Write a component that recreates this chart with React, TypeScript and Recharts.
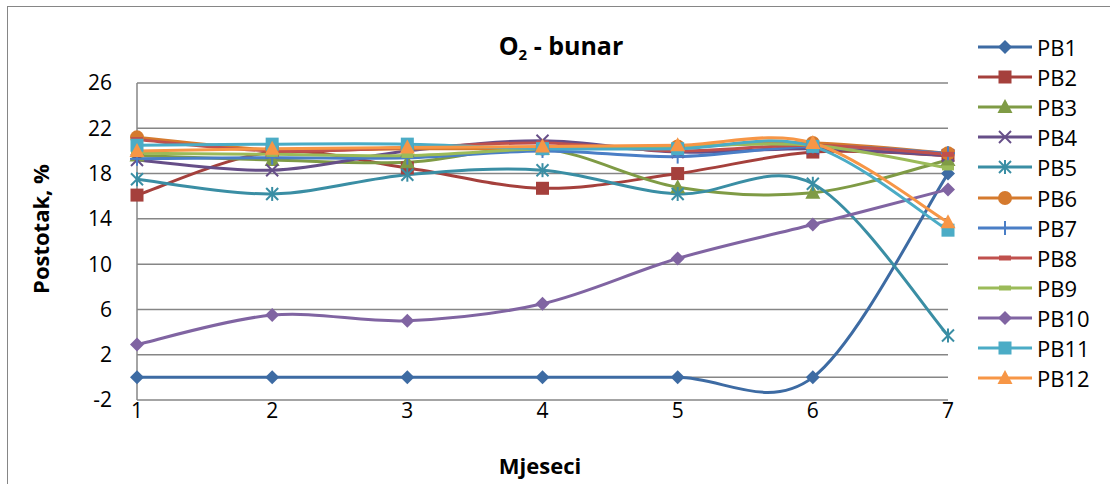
import React from "react";
import { LineChart, Line, XAxis, YAxis, CartesianGrid, ReferenceLine } from "recharts";

const months = [1, 2, 3, 4, 5, 6, 7];
const yTicks = [-2, 2, 6, 10, 14, 18, 22, 26];
const PB1 = [0, 0, 0, 0, 0, 0, 18];
const PB2 = [16.1, 19.9, 18.5, 16.7, 18.0, 19.9, 19.6];
const PB3 = [19.6, 19.2, 19.0, 20.2, 16.8, 16.3, 19.2];
const PB4 = [19.2, 18.3, 20.0, 20.9, 19.9, 20.2, 19.6];
const PB5 = [17.5, 16.2, 17.9, 18.3, 16.2, 17.1, 3.7];
const PB6 = [21.2, 20.1, 20.2, 20.2, 20.4, 20.7, 19.8];
const PB7 = [19.3, 19.4, 19.4, 20.0, 19.5, 20.4, 19.8];
const PB8 = [21.0, 20.0, 20.3, 20.7, 20.0, 20.5, 19.7];
const PB9 = [19.8, 19.7, 19.6, 20.2, 20.4, 20.5, 18.5];
const PB10 = [2.9, 5.5, 5.0, 6.5, 10.5, 13.5, 16.6];
const PB11 = [20.5, 20.6, 20.6, 20.2, 20.2, 20.4, 13.0];
const PB12 = [20.0, 20.2, 20.3, 20.4, 20.5, 20.7, 13.7];

const seriesNames = ["PB1", "PB2", "PB3", "PB4", "PB5", "PB6", "PB7", "PB8", "PB9", "PB10", "PB11", "PB12"];
const seriesValues = [PB1, PB2, PB3, PB4, PB5, PB6, PB7, PB8, PB9, PB10, PB11, PB12];
const seriesColors = [
  "#3D6BA3", "#A5403C", "#7F9B45", "#664E88", "#3A8EA4", "#D57A2E",
  "#4A7EC6", "#C0504D", "#9BBB59", "#8064A2", "#4BACC6", "#F79646",
];
const seriesShapes = [
  "diamond", "square", "triangle", "x", "star", "circle",
  "plus", "dash", "dash", "diamond", "square", "triangle",
];

const data = months.map((m, i) => {
  const row: any = { m };
  seriesNames.forEach((n, k) => (row[n] = seriesValues[k][i]));
  return row;
});

// Excel-like smoothing (Catmull-Rom style bezier)
const excelCurve: any = (context: any) => {
  let pts: number[][] = [];
  return {
    areaStart() {},
    areaEnd() {},
    lineStart() { pts = []; },
    point(x: number, y: number) { pts.push([+x, +y]); },
    lineEnd() {
      if (!pts.length) return;
      context.moveTo(pts[0][0], pts[0][1]);
      for (let i = 0; i < pts.length - 1; i++) {
        const p0 = pts[i - 1] || pts[i];
        const p1 = pts[i];
        const p2 = pts[i + 1];
        const p3 = pts[i + 2] || pts[i + 1];
        const c1x = p1[0] + (p2[0] - p0[0]) / 6;
        const c1y = p1[1] + (p2[1] - p0[1]) / 6;
        const c2x = p2[0] - (p3[0] - p1[0]) / 6;
        const c2y = p2[1] - (p3[1] - p1[1]) / 6;
        context.bezierCurveTo(c1x, c1y, c2x, c2y, p2[0], p2[1]);
      }
    },
  };
};

function Marker({ shape, color, cx, cy }: any) {
  const s = 7;
  switch (shape) {
    case "diamond":
      return <polygon points={`${cx},${cy - s} ${cx + s},${cy} ${cx},${cy + s} ${cx - s},${cy}`} fill={color} />;
    case "square":
      return <rect x={cx - 6.5} y={cy - 6.5} width={13} height={13} fill={color} />;
    case "triangle":
      return <polygon points={`${cx},${cy - 8} ${cx + 7.5},${cy + 6} ${cx - 7.5},${cy + 6}`} fill={color} />;
    case "circle":
      return <circle cx={cx} cy={cy} r={7} fill={color} />;
    case "x":
      return (
        <g stroke={color} strokeWidth={2}>
          <line x1={cx - 6} y1={cy - 6} x2={cx + 6} y2={cy + 6} />
          <line x1={cx - 6} y1={cy + 6} x2={cx + 6} y2={cy - 6} />
        </g>
      );
    case "star":
      return (
        <g stroke={color} strokeWidth={2}>
          <line x1={cx - 6} y1={cy - 6} x2={cx + 6} y2={cy + 6} />
          <line x1={cx - 6} y1={cy + 6} x2={cx + 6} y2={cy - 6} />
          <line x1={cx} y1={cy - 7} x2={cx} y2={cy + 7} />
        </g>
      );
    case "plus":
      return (
        <g stroke={color} strokeWidth={2}>
          <line x1={cx} y1={cy - 7} x2={cx} y2={cy + 7} />
          <line x1={cx - 7} y1={cy} x2={cx + 7} y2={cy} />
        </g>
      );
    case "dash":
      return <rect x={cx - 6} y={cy - 2.5} width={12} height={5} fill={color} />;
    default:
      return null;
  }
}

const makeDot = (shape: string, color: string) => (props: any) => {
  const { cx, cy, index } = props;
  if (cx == null || cy == null) return <g key={index} />;
  return <Marker key={index} shape={shape} color={color} cx={cx} cy={cy} />;
};

const FONT = "'Open Sans', 'Noto Sans', sans-serif";
const GRID = "#868686";

export default function App() {
  return (
    <div style={{ position: "absolute", left: 0, top: 0, width: 1110, height: 484, background: "#fff", fontFamily: FONT, overflow: "hidden" }}>
      <div style={{ position: "absolute", left: 7, top: 6, width: 1200, height: 600, borderLeft: `1.5px solid ${GRID}`, borderTop: `1.5px solid ${GRID}` }} />
      <div style={{ position: "absolute", left: 0, top: 0 }}>
        <LineChart width={1110} height={484} data={data} margin={{ top: 83, right: 162, bottom: 54, left: 0 }}>
          <CartesianGrid horizontal vertical={false} stroke={GRID} strokeWidth={1.5} />
          <XAxis
            dataKey="m"
            type="number"
            domain={[1, 7]}
            ticks={months}
            height={30}
            axisLine={false}
            tickLine={false}
            tickSize={0}
            tickMargin={3}
            tick={{ fill: "#000", fontSize: 21, fontFamily: FONT }}
          />
          <YAxis
            type="number"
            domain={[-2, 26]}
            ticks={yTicks}
            width={137}
            interval={0}
            axisLine={{ stroke: GRID, strokeWidth: 1.5 }}
            tickLine={false}
            tickSize={0}
            tickMargin={25}
            tick={{ fill: "#000", fontSize: 21, fontFamily: FONT }}
          />
          <ReferenceLine y={0} stroke={GRID} strokeWidth={1.5} />
          {seriesNames.map((n, k) => (
            <Line
              key={n}
              dataKey={n}
              type={excelCurve}
              stroke={seriesColors[k]}
              strokeWidth={3}
              dot={makeDot(seriesShapes[k], seriesColors[k])}
              activeDot={false}
              isAnimationActive={false}
            />
          ))}
        </LineChart>
      </div>
      <div style={{ position: "absolute", left: 461, top: 29, width: 200, textAlign: "center", fontWeight: 700, fontSize: 25, lineHeight: "32px" }}>
        O<sub style={{ fontSize: 15, verticalAlign: "-5px" }}>2</sub> - bunar
      </div>
      <div style={{ position: "absolute", left: 40, top: 229, transform: "translate(-50%, -50%) rotate(-90deg)", fontWeight: 700, fontSize: 22, whiteSpace: "nowrap" }}>
        Postotak, %
      </div>
      <div style={{ position: "absolute", left: 540, top: 465, transform: "translate(-50%, -50%)", fontWeight: 700, fontSize: 22, whiteSpace: "nowrap" }}>
        Mjeseci
      </div>
      <div style={{ position: "absolute", left: 975, top: 32 }}>
        {seriesNames.map((n, k) => (
          <div key={n} style={{ display: "flex", alignItems: "center", height: 30.1 }}>
            <svg width={60} height={20} style={{ display: "block" }}>
              <line x1={3} y1={10} x2={57} y2={10} stroke={seriesColors[k]} strokeWidth={3} />
              <Marker shape={seriesShapes[k]} color={seriesColors[k]} cx={30} cy={10} />
            </svg>
            <span style={{ fontSize: 22, marginLeft: 2, lineHeight: "22px" }}>{n}</span>
          </div>
        ))}
      </div>
    </div>
  );
}
